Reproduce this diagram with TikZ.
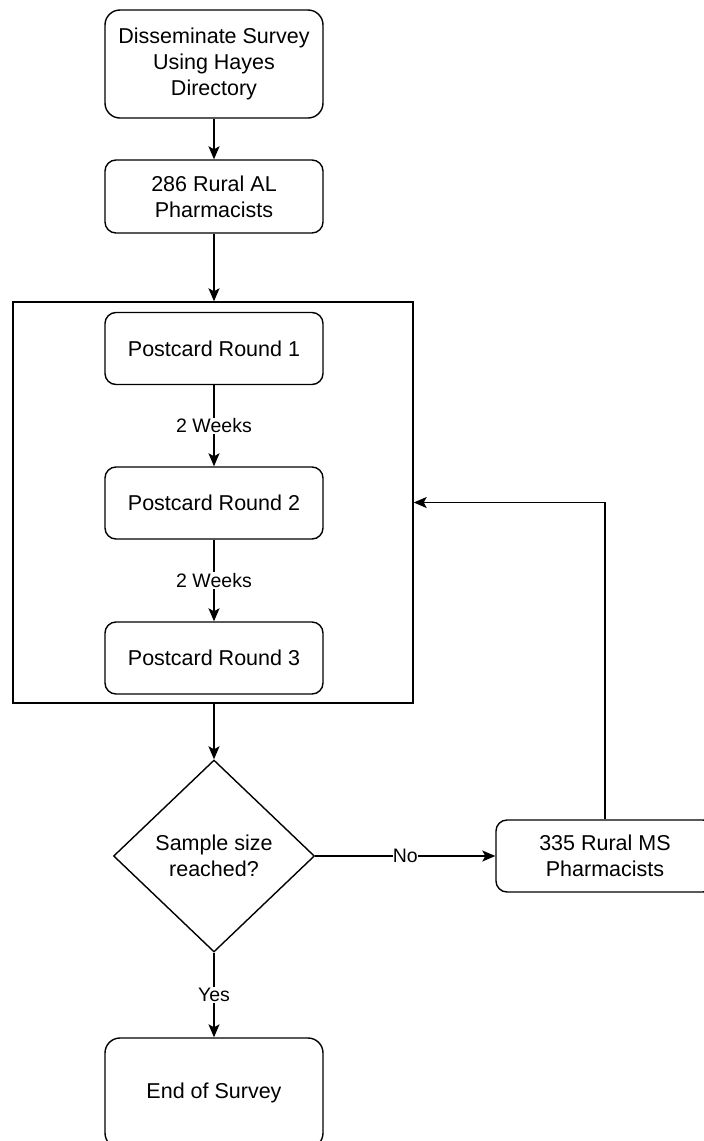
\documentclass[tikz,border=0pt]{standalone}
\usepackage{fontspec}
\setmainfont{Liberation Sans}
\usepackage{tikz}
\usetikzlibrary{calc}
\usetikzlibrary{arrows.meta}
\usetikzlibrary{shapes.geometric}
\tikzset{>={Stealth[length=13pt, width=11pt, inset=3pt]}}
\tikzstyle{stepbox} = [rectangle, draw = black, line width = 1.4pt, rounded corners = 11pt, minimum width = 218pt, minimum height = 72pt, inner sep = 0, align = center, font = \fontsize{21.5}{26}\selectfont]
\tikzstyle{decide} = [diamond, draw = black, line width = 1.4pt, minimum width = 201pt, minimum height = 192pt, inner sep = 0, align = center, font = \fontsize{21.5}{26}\selectfont]
\tikzstyle{lbl} = [fill = white, inner sep = 1pt, font = \fontsize{19.5}{23}\selectfont]
\tikzstyle{flow} = [->, draw = black, line width = 1.4pt]

\begin{document}
\begin{tikzpicture}[x = 1pt, y = -1pt]
\useasboundingbox (0, 0) rectangle (704, 1141);
%\draw [help lines] (0, 0) grid (704, 1141);
\node [stepbox, minimum height = 108pt, rounded corners = 15pt] (survey) at (214, 64) {Disseminate Survey\\Using Hayes\\Directory};
\node [stepbox, minimum height = 73pt] (ruralAL) at (214, 196.5) {286 Rural AL\\Pharmacists};
\node [draw = black, line width = 1.4pt, minimum width = 400pt, minimum height = 401pt, inner sep = 0] (frame) at (213, 502.5) {};
\node [stepbox] (round1) at (214, 348.5) {Postcard Round 1};
\node [stepbox] (round2) at (214, 503) {Postcard Round 2};
\node [stepbox] (round3) at (214, 658) {Postcard Round 3};
\node [decide] (decision) at (214, 856) {Sample size\\reached?};
\node [stepbox] (ruralMS) at (605, 856) {335 Rural MS\\Pharmacists};
\node [stepbox, minimum height = 110pt, rounded corners = 15pt] (endsurvey) at (214, 1093) {End of Survey};
\draw [flow] (survey) to (ruralAL);
\draw [flow] (ruralAL) to (ruralAL |- frame.north);
\draw [flow] (round1) to node [lbl] {2 Weeks} (round2);
\draw [flow] (round2) to node [lbl] {2 Weeks} (round3);
\draw [flow] (decision |- frame.south) to (decision.north);
\draw [flow] (decision.east) to node [lbl, inner sep = 0] {No} (ruralMS.west);
\draw [flow] (ruralMS.north) |- (frame.east);
\draw [flow] (decision.south) to node [lbl] {Yes} (endsurvey.north);
\end{tikzpicture}
\end{document}
